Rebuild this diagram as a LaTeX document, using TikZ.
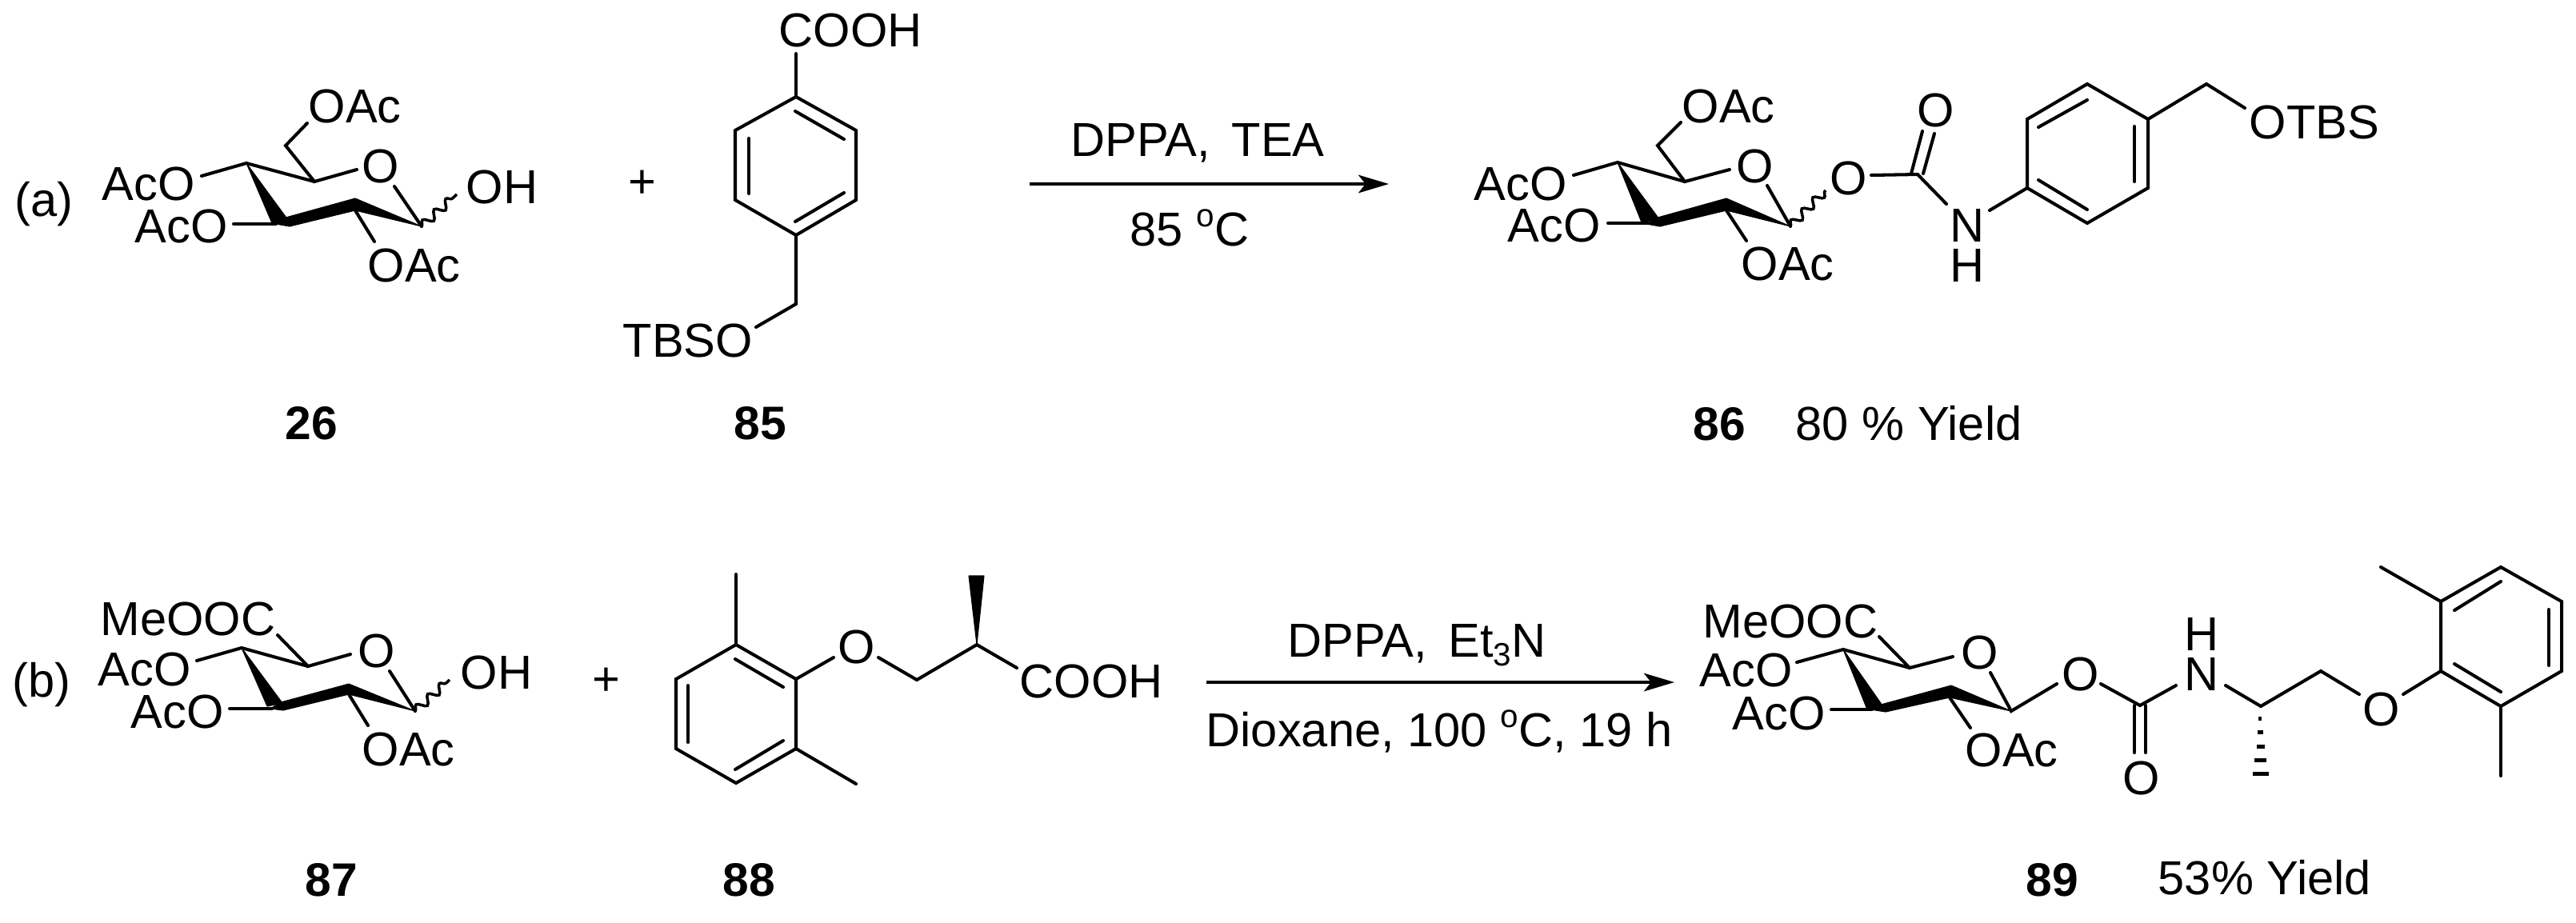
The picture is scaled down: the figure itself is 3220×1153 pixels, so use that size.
\documentclass[tikz,border=0pt]{standalone}
\usepackage{fontspec}
\setmainfont{Liberation Sans}
\usetikzlibrary{arrows.meta,decorations.pathmorphing}
\tikzset{
  lab/.style={inner sep=0pt,anchor=base west,font=\fontsize{16.95}{18}\selectfont},
  num/.style={inner sep=0pt,anchor=base west,font=\fontsize{16.7}{18}\selectfont\bfseries},
  bond/.style={line width=1.15pt,line cap=round,line join=miter},
  wedge/.style={fill=black,draw=black,line width=0.3pt,line join=round},
  wavy/.style={line width=1pt,decorate,decoration={snake,segment length=5.6pt,amplitude=1.5pt}},
  rxn/.style={line width=1.1pt,-{Stealth[length=10.8pt,width=6.4pt,inset=2.5pt]}},
}
\newcommand{\supo}{\raisebox{0.4em}{\fontsize{11.5}{12}\selectfont o}}
\begin{document}
\begin{tikzpicture}[x=0.01cm,y=-0.01cm]
\useasboundingbox (0,0) rectangle (3220,1153);
% ---------- (a)
\node[lab] (la) at (18,270) {(a)};
% 26
\draw[bond] (384,154) -- (357,182) -- (393,227) -- (446,212);
\draw[bond] (252,220) -- (308,204) -- (393,227);
\draw[bond] (493,233) -- (527,283);
\draw[bond] (292,280) -- (345,280);
\draw[bond] (444,263) -- (468,302);
\fill[wedge] (308,204) -- (340,279) -- (360,275) -- cycle;
\fill[wedge] (357,272) -- (444,248) -- (527,283) -- (444,263) -- (362,283) -- (345,280) -- cycle;
\draw[wavy] (527,283) -- (571,243);
\node[lab] (n26a) at (385,153) {OAc};
\node[lab] (n26b) at (127,250) {AcO};
\node[lab] (n26c) at (168,303) {AcO};
\node[lab] (n26d) at (459,352) {OAc};
\node[lab] (n26o) at (452,228) {O};
\node[lab] (n26h) at (582,254) {OH};
\node[lab] (pa) at (785,247) {+};
% 85
\draw[bond] (995,121) -- (1070,163) -- (1070,250) -- (995,294) -- (919,250) -- (919,163) -- cycle;
\draw[bond] (995,121) -- (995,67);
\draw[bond] (994,139) -- (1055,174);
\draw[bond] (936,173) -- (936,242);
\draw[bond] (994,277) -- (1055,241);
\draw[bond] (995,294) -- (995,380) -- (945,409);
\node[lab] (n85a) at (973,58) {COOH};
\node[lab] (n85b) at (778,446) {TBSO};
\node[num] (l26) at (356,549) {26};
\node[num] (l85) at (917,549) {85};
% arrow a
\coordinate (as) at (1287,230);
\coordinate (ae) at (1736,230);
\draw[rxn] (as) -- (ae);
\node[lab] (ta1) at (1338,195) {DPPA,\, TEA};
\node[lab] (ta2) at (1412,307) {85 \supo C};
% 86
\draw[bond] (2101,153) -- (2072,182) -- (2106,227) -- (2162,212);
\draw[bond] (1967,219) -- (2022,203) -- (2106,227);
\draw[bond] (2209,232) -- (2238,283);
\draw[bond] (2010,279) -- (2060,279);
\draw[bond] (2158,263) -- (2183,301);
\fill[wedge] (2022,203) -- (2052,278) -- (2074,274) -- cycle;
\fill[wedge] (2072,272) -- (2158,248) -- (2238,283) -- (2158,263) -- (2075,283) -- (2058,280) -- cycle;
\draw[wavy] (2238,283) -- (2282,238);
\draw[bond] (2339,219) -- (2397,218);
\draw[bond] (2389,217) -- (2403,164);
\draw[bond] (2404,217) -- (2418,167);
\draw[bond] (2397,218) -- (2433,255);
\draw[bond] (2487,263) -- (2534,235);
\draw[bond] (2534,235) -- (2609,279) -- (2685,235) -- (2685,149) -- (2609,105) -- (2534,149) -- cycle;
\draw[bond] (2548,159) -- (2609,125);
\draw[bond] (2668,158) -- (2668,227);
\draw[bond] (2548,225) -- (2609,262);
\draw[bond] (2685,149) -- (2758,105) -- (2806,135);
\node[lab] (n86a) at (2102,153) {OAc};
\node[lab] (n86b) at (1842,250) {AcO};
\node[lab] (n86c) at (1884,302) {AcO};
\node[lab] (n86d) at (2176,350) {OAc};
\node[lab] (n86o) at (2170,228) {O};
\node[lab] (n86p) at (2287,243) {O};
\node[lab] (n86q) at (2396,158) {O};
\node[lab] (n86n) at (2437,302) {N};
\node[lab] (n86h) at (2437,352) {H};
\node[lab] (n86t) at (2811,173) {OTBS};
\node[num] (l86) at (2116,550) {86};
\node[lab] (y86) at (2244,550) {80 \% Yield};
% ---------- (b)
\node[lab] (lb) at (15,871) {(b)};
% 87
\draw[bond] (347,794) -- (385,833) -- (438,818);
\draw[bond] (246,826) -- (302,810) -- (385,833);
\draw[bond] (487,839) -- (519,889);
\draw[bond] (287,886) -- (340,886);
\draw[bond] (436,868) -- (460,907);
\fill[wedge] (302,810) -- (334,883) -- (353,879) -- cycle;
\fill[wedge] (351,878) -- (436,855) -- (519,889) -- (436,868) -- (354,888) -- (338,886) -- cycle;
\draw[wavy] (519,889) -- (562,850);
\node[lab] (n87a) at (125,794) {MeOOC};
\node[lab] (n87b) at (122,857) {AcO};
\node[lab] (n87c) at (163,910) {AcO};
\node[lab] (n87d) at (452,957) {OAc};
\node[lab] (n87o) at (447,834) {O};
\node[lab] (n87h) at (575,861) {OH};
\node[lab] (pb) at (740,869) {+};
% 88
\draw[bond] (920,806) -- (995,849) -- (995,936) -- (920,979) -- (845,936) -- (845,849) -- cycle;
\draw[bond] (919,824) -- (979,859);
\draw[bond] (860,857) -- (860,928);
\draw[bond] (919,962) -- (979,926);
\draw[bond] (920,806) -- (920,718);
\draw[bond] (995,936) -- (1070,980);
\draw[bond] (995,849) -- (1042,822);
\draw[bond] (1098,822) -- (1146,850) -- (1221,806) -- (1271,835);
\fill[wedge] (1221,806) -- (1211,720) -- (1230,720) -- cycle;
\node[lab] (n88o) at (1047,829) {O};
\node[lab] (n88a) at (1274,872) {COOH};
\node[num] (l87) at (381,1120) {87};
\node[num] (l88) at (903,1120) {88};
% arrow b
\coordinate (bs) at (1508,853);
\coordinate (be) at (2093,853);
\draw[rxn] (bs) -- (be);
\node[lab] (tb1) at (1609,821) {DPPA,\, Et\raisebox{-0.2em}{\fontsize{11.5}{12}\selectfont 3}N};
\node[lab] (tb2) at (1507,933) {Dioxane, 100 \supo C, 19 h};
% 89
\draw[bond] (2349,796) -- (2387,835) -- (2441,821);
\draw[bond] (2246,828) -- (2304,812) -- (2387,835);
\draw[bond] (2488,841) -- (2514,889) -- (2571,855);
\draw[bond] (2289,887) -- (2340,887);
\draw[bond] (2437,872) -- (2463,910);
\fill[wedge] (2304,812) -- (2334,887) -- (2353,882) -- cycle;
\fill[wedge] (2351,881) -- (2439,857) -- (2514,889) -- (2437,872) -- (2357,890) -- (2338,887) -- cycle;
\draw[bond] (2626,855) -- (2675,882) -- (2720,857);
\draw[bond] (2668,882) -- (2668,941);
\draw[bond] (2682,882) -- (2682,941);
\draw[bond] (2782,857) -- (2826,883) -- (2901,839) -- (2949,868);
\draw[bond] (3004,868) -- (3051,839);
\draw[bond] (3051,839) -- (3126,883) -- (3202,839) -- (3202,752) -- (3126,709) -- (3051,752) -- cycle;
\draw[bond] (3068,763) -- (3126,727);
\draw[bond] (3186,762) -- (3186,832);
\draw[bond] (3068,830) -- (3126,865);
\draw[bond] (3051,752) -- (2976,709);
\draw[bond] (3126,883) -- (3126,970);
\fill (2823,896) rectangle (2827,901);
\fill (2822,913) rectangle (2829,918);
\fill (2821,931) rectangle (2831,936);
\fill (2818,948) rectangle (2833,953);
\fill (2816,965) rectangle (2836,970);
\node[lab] (n89a) at (2128,797) {MeOOC};
\node[lab] (n89b) at (2124,858) {AcO};
\node[lab] (n89c) at (2165,912) {AcO};
\node[lab] (n89d) at (2456,958) {OAc};
\node[lab] (n89o) at (2451,836) {O};
\node[lab] (n89p) at (2577,863) {O};
\node[lab] (n89q) at (2653,993) {O};
\node[lab] (n89n) at (2730,863) {N};
\node[lab] (n89h) at (2730,813) {H};
\node[lab] (n89r) at (2953,907) {O};
\node[num] (l89) at (2532,1120) {89};
\node[lab] (y89) at (2697,1118) {53\% Yield};
\end{tikzpicture}
\end{document}
